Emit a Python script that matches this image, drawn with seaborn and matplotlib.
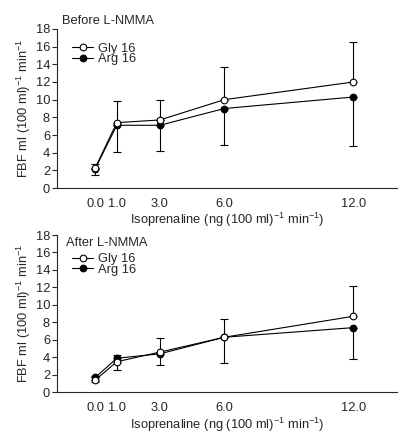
import matplotlib
matplotlib.use("Agg")
import matplotlib.pyplot as plt
import seaborn as sns
import pandas as pd
import numpy as np

# ---- data ----
doses = [0.0, 1.0, 3.0, 6.0, 12.0]
dose_labels = ["0.0", "1.0", "3.0", "6.0", "12.0"]

before_gly = [2.3, 7.4, 7.7, 10.0, 12.0]
before_arg = [2.2, 7.1, 7.1, 9.0, 10.3]
before_gly_err_lo = [0.0, 0.0, 0.0, 0.0, 0.0]
before_gly_err_hi = [0.4, 2.5, 2.3, 3.7, 4.5]
before_arg_err_lo = [0.7, 3.0, 2.9, 4.1, 5.5]
before_arg_err_hi = [0.0, 0.0, 0.0, 0.0, 0.0]

after_gly = [1.4, 3.5, 4.6, 6.3, 8.7]
after_arg = [1.7, 3.9, 4.4, 6.3, 7.4]
after_gly_err_lo = [0.2, 0.9, 0.0, 0.0, 0.0]
after_gly_err_hi = [0.0, 0.0, 1.6, 2.1, 3.5]
after_arg_err_lo = [0.0, 0.0, 1.3, 2.9, 3.6]
after_arg_err_hi = [0.2, 0.4, 0.0, 0.0, 0.0]

panel_titles = ["Before L-NMMA", "After L-NMMA"]
series_names = ["Gly 16", "Arg 16"]
y_ticks = [0, 2, 4, 6, 8, 10, 12, 14, 16, 18]

sns.set_style("ticks")
plt.rcParams['font.family'] = ['Liberation Sans', 'DejaVu Sans']
plt.rcParams['mathtext.fontset'] = 'custom'
plt.rcParams['mathtext.rm'] = 'Liberation Sans'
plt.rcParams['mathtext.it'] = 'Liberation Sans'

fig = plt.figure(figsize=(4.18, 4.34), dpi=100)
ax_top = fig.add_axes([0.1364, 0.5668, 0.8134, 0.3664])
ax_bot = fig.add_axes([0.1364, 0.0961, 0.8134, 0.3624])

panels = [
    (ax_top, before_gly, before_arg, before_gly_err_lo, before_gly_err_hi,
     before_arg_err_lo, before_arg_err_hi, panel_titles[0]),
    (ax_bot, after_gly, after_arg, after_gly_err_lo, after_gly_err_hi,
     after_arg_err_lo, after_arg_err_hi, panel_titles[1]),
]

fs = 9.3
for i, (ax, gly, arg, glo, ghi, alo, ahi, title) in enumerate(panels):
    df = pd.DataFrame({
        "dose": doses * 2,
        "fbf": gly + arg,
        "group": [series_names[0]] * len(doses) + [series_names[1]] * len(doses),
    })
    ax.errorbar(doses, gly, yerr=[glo, ghi], fmt='none', ecolor='black',
                elinewidth=0.8, capsize=3, capthick=0.8, zorder=1)
    ax.errorbar(doses, arg, yerr=[alo, ahi], fmt='none', ecolor='black',
                elinewidth=0.8, capsize=3, capthick=0.8, zorder=1)
    sns.lineplot(data=df[df.group == series_names[1]], x="dose", y="fbf", ax=ax,
                 color='black', linewidth=0.8, marker='o', markersize=4.8,
                 markerfacecolor='black', markeredgecolor='black',
                 markeredgewidth=0.8, label=series_names[1], zorder=3)
    sns.lineplot(data=df[df.group == series_names[0]], x="dose", y="fbf", ax=ax,
                 color='black', linewidth=0.8, marker='o', markersize=4.8,
                 markerfacecolor='white', markeredgecolor='black',
                 markeredgewidth=0.8, label=series_names[0], zorder=4)

    ax.set_xlim(-1.78, 14.03)
    ax.set_ylim(0, 18)
    ax.set_yticks(y_ticks)
    ax.set_yticklabels([str(t) for t in y_ticks], fontsize=fs)
    ax.set_xticks(doses)
    ax.set_xticklabels(dose_labels, fontsize=fs)
    ax.tick_params(axis='x', length=0, pad=7)
    ax.tick_params(axis='y', length=3.5, width=0.8, pad=1.5)
    for s in ['top', 'right']:
        ax.spines[s].set_visible(False)
    ax.spines['left'].set_linewidth(0.8)
    ax.spines['bottom'].set_linewidth(0.8)
    ax.set_xlabel(r"Isoprenaline (ng (100 ml)$^{-1}$ min$^{-1}$)", fontsize=fs, labelpad=1)
    ax.set_ylabel(r"FBF ml (100 ml)$^{-1}$ min$^{-1}$", fontsize=fs, labelpad=2)

    handles, labels = ax.get_legend_handles_labels()
    order = [labels.index(series_names[0]), labels.index(series_names[1])]
    ax.legend([handles[j] for j in order], [labels[j] for j in order],
              loc='upper left', bbox_to_anchor=(0.045, 0.915 if i == 0 else 0.885),
              frameon=False, fontsize=fs, handlelength=1.6, borderpad=0,
              handletextpad=0.35, labelspacing=-0.1, borderaxespad=0)
    if i == 0:
        ax.text(0.015, 1.01, title, transform=ax.transAxes, fontsize=fs,
                ha='left', va='bottom')
    else:
        ax.text(0.025, 0.985, title, transform=ax.transAxes, fontsize=fs,
                ha='left', va='top')

fig.savefig("out.png", dpi=100)
